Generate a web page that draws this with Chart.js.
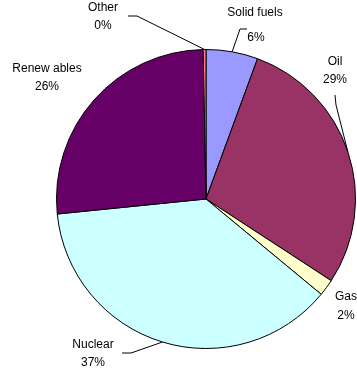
<!DOCTYPE html>
<html>
<head>
<meta charset="utf-8">
<script src="https://cdn.jsdelivr.net/npm/chart.js@4"></script>
<style>
  html, body { margin: 0; padding: 0; background: #fff; }
  #wrap { width: 357px; height: 374px; }
</style>
</head>
<body>
<div id="wrap"><canvas id="energy" width="357" height="374"></canvas></div>
<script>
const sources = ["Solid fuels", "Oil", "Gas", "Nuclear", "Renew ables", "Other"];
const shares = [5.6, 28.6, 1.8, 37.4, 26.3, 0.3];
const sliceColors = ["#9999ff", "#993366", "#ffffcc", "#ccffff", "#660066", "#ff8080"];

// label placement, offsets from the pie centre (px): name line, percent line, leader bends
const labelLayout = [
  { name: [49, -186], pct: [50, -161], leader: [[34, -170], [41, -170]] },
  { name: [129, -137], pct: [129, -119], leader: [[130, -94], [129, -104]] },
  { name: [140, 98], pct: [140, 117], leader: null },
  { name: [-113, 146], pct: [-113, 164], leader: [[-75, 154], [-84, 154]] },
  { name: [-159, -130], pct: [-159, -112], leader: null },
  { name: [-103, -191], pct: [-103, -173], leader: [[-69, -183], [-78, -183]] },
];

const total = shares.reduce((a, b) => a + b, 0);

const pieLabels = {
  id: "pieLabels",
  afterDatasetsDraw(chart) {
    const ctx = chart.ctx;
    const meta = chart.getDatasetMeta(0);
    ctx.save();
    ctx.font = "12px 'Liberation Sans', Arial, sans-serif";
    ctx.fillStyle = "#000";
    ctx.strokeStyle = "#000";
    ctx.lineWidth = 1;
    ctx.textAlign = "center";
    ctx.textBaseline = "middle";
    meta.data.forEach((arc, i) => {
      const cx = arc.x, cy = arc.y;
      const lay = labelLayout[i];
      const pct = Math.round((shares[i] / total) * 100) + "%";
      ctx.fillText(sources[i], cx + lay.name[0], cy + lay.name[1]);
      ctx.fillText(pct, cx + lay.pct[0], cy + lay.pct[1]);
      if (lay.leader) {
        const mid = (arc.startAngle + arc.endAngle) / 2;
        const r = arc.outerRadius;
        ctx.beginPath();
        ctx.moveTo(cx + Math.cos(mid) * r, cy + Math.sin(mid) * r);
        lay.leader.forEach((p) => ctx.lineTo(cx + p[0], cy + p[1]));
        ctx.stroke();
      }
    });
    ctx.restore();
  },
};

const config = {
  type: "pie",
  data: {
    labels: sources,
    datasets: [
      {
        data: shares,
        backgroundColor: sliceColors,
        borderColor: "#000",
        borderWidth: 1,
      },
    ],
  },
  options: {
    responsive: false,
    animation: false,
    layout: { padding: { left: 56, top: 49, right: 1, bottom: 25 } },
    plugins: {
      legend: { display: false },
      tooltip: { enabled: false },
    },
  },
  plugins: [pieLabels],
};

new Chart(document.getElementById("energy"), config);
</script>
</body>
</html>
